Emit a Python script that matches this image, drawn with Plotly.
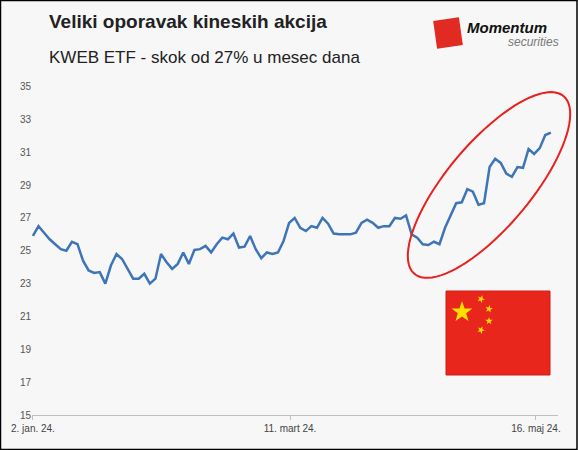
import numpy as np
import pandas as pd
import plotly.graph_objects as go

values = [25.9, 26.5, 26.1, 25.7, 25.4, 25.1, 25.0, 25.55, 25.4, 24.4, 23.8, 23.65, 23.7, 23.0,
          24.1, 24.8, 24.5, 23.9, 23.3, 23.3, 23.6, 23.0, 23.3, 24.8, 24.3, 23.9, 24.2, 24.9,
          24.2, 25.05, 25.1, 25.3, 24.9, 25.4, 25.8, 25.7, 26.05, 25.2, 25.25, 25.9, 25.1, 24.55,
          24.9, 24.8, 24.9, 25.6, 26.7, 27.0, 26.4, 26.2, 26.5, 26.4, 27.0, 26.65, 26.05, 26.0,
          26.0, 26.0, 26.1, 26.7, 26.9, 26.7, 26.4, 26.5, 26.5, 27.0, 26.95, 27.15, 26.0, 25.8,
          25.4, 25.35, 25.55, 25.4, 26.4, 27.2, 27.9, 27.95, 28.75, 28.6, 27.8, 27.9, 30.1, 30.6,
          30.35, 29.7, 29.5, 30.1, 30.05, 31.2, 30.9, 31.25, 32.05, 32.2]
dates = pd.date_range("2024-01-02", "2024-05-20", periods=len(values))
tick_dates = ["2024-01-02", "2024-03-11", "2024-05-16"]
tick_labels = ["2. jan. 24.", "11. mart 24.", "16. maj 24."]
y_ticks = list(range(15, 36, 2))

W, H = 578, 450
L, R, T, B = 32, 20, 80, 35
pw, ph = W - L - R, H - T - B

def px(X, Y):
    return (X - L) / pw, (H - B - Y) / ph

def poly_path(points):
    pts = [px(x, y) for x, y in points]
    return "M " + " L ".join(f"{p[0]:.4f},{p[1]:.4f}" for p in pts) + " Z"

fig = go.Figure()
fig.add_trace(go.Scatter(x=dates, y=values, mode="lines",
                         line=dict(color="#3e75b8", width=2.5), hoverinfo="skip"))

# ellipse highlight
t = np.linspace(0, 2 * np.pi, 90)
a, b, ang = 116, 42, np.deg2rad(50)
cx, cy = 489, 185
Xs = cx + a * np.cos(t) * np.cos(ang) - b * np.sin(t) * np.sin(ang)
Ys = cy - (a * np.cos(t) * np.sin(ang) + b * np.sin(t) * np.cos(ang))
shapes = [dict(type="path", path=poly_path(zip(Xs, Ys)), xref="paper", yref="paper",
               line=dict(color="#e8201e", width=2))]

# flag
x0, y0 = px(446, 375)
x1, y1 = px(550, 291)
shapes.append(dict(type="rect", xref="paper", yref="paper", x0=x0, y0=y0, x1=x1, y1=y1,
                   fillcolor="#e8261c", line=dict(color="#d01c14", width=1)))

def star(cx_, cy_, r, rot=0):
    pts = []
    for k in range(10):
        rr = r if k % 2 == 0 else r * 0.4
        th = -np.pi / 2 + rot + k * np.pi / 5
        pts.append((cx_ + rr * np.cos(th), cy_ + rr * np.sin(th)))
    return pts

for (sx, sy, sr, rot) in [(462, 312, 11, 0), (481, 299, 4, 0.4), (489, 309, 4, 0.2),
                          (489, 321, 4, 0), (481, 330, 4, 0.4)]:
    shapes.append(dict(type="path", path=poly_path(star(sx, sy, sr, rot)), xref="paper",
                       yref="paper", fillcolor="#ffde00", line=dict(width=0)))

# logo square (tilted)
c, s = np.cos(np.deg2rad(-8)), np.sin(np.deg2rad(-8))
sq = [(-13, -14), (13, -14), (13, 14), (-13, 14)]
shapes.append(dict(type="path", xref="paper", yref="paper",
                   path=poly_path([(448 + x * c - y * s, 33 + x * s + y * c) for x, y in sq]),
                   fillcolor="#e02a22", line=dict(width=0)))

texts = [
    (47, 22, "left", "<b>Veliki oporavak kineskih akcija</b>", 19, "#222"),
    (47, 57, "left", "KWEB ETF - skok od 27% u mesec dana", 17, "#222"),
    (465, 27, "left", "<b><i>Momentum</i></b>", 15, "#111"),
    (561, 42, "right", "<i>securities</i>", 12, "#777"),
]
annotations = []
for (fx, fy, anc, txt, sz, col) in texts:
    xx, yy = px(fx, fy)
    annotations.append(dict(x=xx, y=yy, xref="paper", yref="paper", xanchor=anc,
                            yanchor="middle", text=txt, showarrow=False,
                            font=dict(size=sz, color=col,
                                      family="Liberation Sans Narrow, Liberation Sans")))

fig.update_layout(
    width=W, height=H, margin=dict(l=L, r=R, t=T, b=B),
    paper_bgcolor="#f7f7f7", plot_bgcolor="#f7f7f7", showlegend=False,
    shapes=shapes + [dict(type="rect", xref="paper", yref="paper",
                          x0=px(0.5, 0)[0], y0=px(0, H - 0.5)[1], x1=px(W - 1, 0)[0],
                          y1=px(0, 0.5)[1], line=dict(color="black", width=1.5), layer="above")],
    annotations=annotations,
    xaxis=dict(type="date", range=["2024-01-01 18:00", "2024-05-21 22:00"], tickvals=tick_dates,
               ticktext=tick_labels, showgrid=False, showline=True, linecolor="#bfbfbf",
               ticks="outside", tickcolor="#bfbfbf", ticklen=4,
               tickfont=dict(size=10, color="#444", family="Liberation Sans")),
    yaxis=dict(range=[15, 35.4], tickvals=y_ticks, showgrid=False, zeroline=False,
               showline=False, tickfont=dict(size=10, color="#555", family="Liberation Sans")),
)
fig.write_html("out.html", config={"displayModeBar": False},
               post_script="document.body.style.margin='0';document.body.style.padding='0';")
